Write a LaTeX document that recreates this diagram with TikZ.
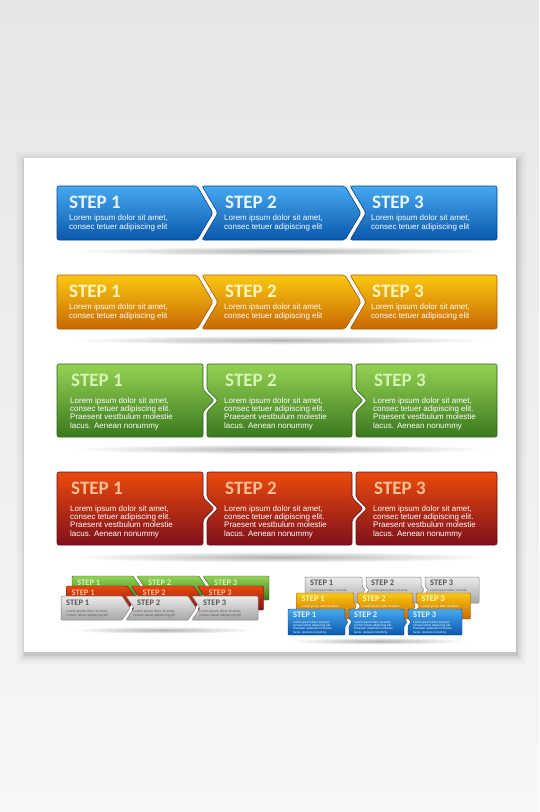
\documentclass[tikz,border=0pt]{standalone}
\usepackage{fontspec}
\setmainfont{Liberation Sans}
\newfontfamily\stepfont{Carlito}
\definecolor{bgtop}{RGB}{228,230,232}
\definecolor{bgbot}{RGB}{246,247,248}
\definecolor{bluetop}{RGB}{70,168,240}
\definecolor{bluebot}{RGB}{10,88,172}
\definecolor{blueedge}{RGB}{8,70,140}
\definecolor{bluestep}{RGB}{232,244,255}
\definecolor{orangetop}{RGB}{250,200,16}
\definecolor{orangebot}{RGB}{200,104,4}
\definecolor{orangeedge}{RGB}{170,88,0}
\definecolor{orangestep}{RGB}{255,246,190}
\definecolor{greentop}{RGB}{148,210,84}
\definecolor{greenbot}{RGB}{58,120,30}
\definecolor{greenedge}{RGB}{46,100,20}
\definecolor{greenstep}{RGB}{214,244,180}
\definecolor{redtop}{RGB}{234,74,12}
\definecolor{redbot}{RGB}{128,16,28}
\definecolor{rededge}{RGB}{104,14,16}
\definecolor{redstep}{RGB}{255,190,150}
\definecolor{graytop}{RGB}{236,236,236}
\definecolor{graybot}{RGB}{166,166,166}
\definecolor{grayedge}{RGB}{130,130,130}
\definecolor{graystep}{RGB}{88,88,88}
% chevron pieces: #1 left, #2 shoulder/right, #3 top, #4 bottom, #5 depth, #6 style
\newcommand{\cfirst}[6]{\path[#6] (#1,#3) -- (#2,#3) -- ({#2+#5},{(#3+#4)/2}) -- (#2,#4) -- (#1,#4) -- cycle;}
\newcommand{\cmid}[6]{\path[#6] (#1,#3) -- (#2,#3) -- ({#2+#5},{(#3+#4)/2}) -- (#2,#4) -- (#1,#4) -- ({#1+#5},{(#3+#4)/2}) -- cycle;}
\newcommand{\clast}[6]{\path[#6] (#1,#3) -- (#2,#3) -- (#2,#4) -- (#1,#4) -- ({#1+#5},{(#3+#4)/2}) -- cycle;}
% tab pieces: #1 left, #2 right, #3 top, #4 bottom, #5 tab depth, #6 tab half height, #7 style
\newcommand{\tfirst}[7]{\path[#7] (#1,#3) -- (#2,#3) -- (#2,{(#3+#4)/2-#6}) -- ({#2+#5},{(#3+#4)/2}) -- (#2,{(#3+#4)/2+#6}) -- (#2,#4) -- (#1,#4) -- cycle;}
\newcommand{\tmid}[7]{\path[#7] (#1,#3) -- (#2,#3) -- (#2,{(#3+#4)/2-#6}) -- ({#2+#5},{(#3+#4)/2}) -- (#2,{(#3+#4)/2+#6}) -- (#2,#4) -- (#1,#4) -- (#1,{(#3+#4)/2+#6}) -- ({#1+#5},{(#3+#4)/2}) -- (#1,{(#3+#4)/2-#6}) -- cycle;}
\newcommand{\tlast}[7]{\path[#7] (#1,#3) -- (#2,#3) -- (#2,#4) -- (#1,#4) -- (#1,{(#3+#4)/2+#6}) -- ({#1+#5},{(#3+#4)/2}) -- (#1,{(#3+#4)/2-#6}) -- cycle;}
\tikzset{
  bluebox/.style={top color=bluetop,bottom color=bluebot,draw=blueedge,line width=0.6,rounded corners=2},
  orangebox/.style={top color=orangetop,bottom color=orangebot,draw=orangeedge,line width=0.6,rounded corners=2},
  greenbox/.style={top color=greentop,bottom color=greenbot,draw=greenedge,line width=0.6,rounded corners=2},
  redbox/.style={top color=redtop,bottom color=redbot,draw=rededge,line width=0.6,rounded corners=2},
  graybox/.style={top color=graytop,bottom color=graybot,draw=grayedge,line width=0.5,rounded corners=1},
  steptxt/.style={anchor=base west,inner sep=0,font=\stepfont\bfseries\fontsize{19}{19}\selectfont},
  smallstep/.style={anchor=base west,inner sep=0,font=\stepfont\bfseries\fontsize{8.5}{8.5}\selectfont},
  bodytwo/.style={anchor=north west,inner sep=0,align=left,text=white,font=\fontsize{8}{9}\selectfont},
  bodyfour/.style={anchor=north west,inner sep=0,align=left,text=white,font=\fontsize{8}{8.3}\selectfont},
  tinytxt/.style={anchor=north west,inner sep=0,align=left,font=\fontsize{3}{3.3}\selectfont},
  rowshadow/.style={inner color=black!30,outer color=white}
}
\begin{document}
\begin{tikzpicture}[x=1pt,y=-1pt]
\useasboundingbox (0,0) rectangle (539,812);
\shade[top color=bgtop,bottom color=bgbot] (0,0) rectangle (539,812);
% card with soft shadow
\foreach \i/\o in {9/0.02,7/0.02,5/0.025,3.5/0.03,2.2/0.04,1.2/0.06}{
  \fill[black,opacity=\o] ({24-\i+1},{158-\i+3}) rectangle ({516+\i+1},{652+\i+3});
}
\fill[white] (24,158) rectangle (516,652);

% row shadows
\shade[rowshadow] (280,251) ellipse (210 and 4.5);
\shade[rowshadow] (280,340) ellipse (210 and 4.5);
\shade[rowshadow] (280,449) ellipse (210 and 5);
\shade[rowshadow] (280,557) ellipse (210 and 5.5);
\shade[rowshadow] (162,630) ellipse (92 and 3.5);
\shade[rowshadow] (378,641) ellipse (88 and 3.5);

% ---- row 1: blue arrows ----
\cfirst{57}{197}{186}{240}{16}{bluebox}
\cmid{202}{345}{186}{240}{16}{bluebox}
\clast{350}{497}{186}{240}{16}{bluebox}
\node[steptxt,text=bluestep] (b1) at (69,208) {STEP 1};
\node[steptxt,text=bluestep] (b2) at (225,208) {STEP 2};
\node[steptxt,text=bluestep] (b3) at (372,208) {STEP 3};
\node[bodytwo] (bt1) at (69,214.3) {Lorem ipsum dolor sit amet,\\consec tetuer adipiscing elit};
\node[bodytwo] (bt2) at (224,214.3) {Lorem ipsum dolor sit amet,\\consec tetuer adipiscing elit};
\node[bodytwo] (bt3) at (371,214.3) {Lorem ipsum dolor sit amet,\\consec tetuer adipiscing elit};

% ---- row 2: orange arrows ----
\cfirst{57}{197}{275}{329}{16}{orangebox}
\cmid{202}{345}{275}{329}{16}{orangebox}
\clast{350}{497}{275}{329}{16}{orangebox}
\node[steptxt,text=orangestep] (o1) at (69,297) {STEP 1};
\node[steptxt,text=orangestep] (o2) at (225,297) {STEP 2};
\node[steptxt,text=orangestep] (o3) at (372,297) {STEP 3};
\node[bodytwo] (ot1) at (69,303.3) {Lorem ipsum dolor sit amet,\\consec tetuer adipiscing elit};
\node[bodytwo] (ot2) at (224,303.3) {Lorem ipsum dolor sit amet,\\consec tetuer adipiscing elit};
\node[bodytwo] (ot3) at (371,303.3) {Lorem ipsum dolor sit amet,\\consec tetuer adipiscing elit};

% ---- row 3: green tabs ----
\tfirst{57}{203}{364}{437}{11}{11}{greenbox}
\tmid{207}{352}{364}{437}{11}{11}{greenbox}
\tlast{356}{497}{364}{437}{11}{11}{greenbox}
\node[steptxt,text=greenstep] (g1) at (71,386) {STEP 1};
\node[steptxt,text=greenstep] (g2) at (225,386) {STEP 2};
\node[steptxt,text=greenstep] (g3) at (374,386) {STEP 3};
\node[bodyfour] (gt1) at (70,397.1) {Lorem ipsum dolor sit amet,\\consec tetuer adipiscing elit.\\Praesent vestbulum molestie\\lacus. Aenean nonummy};
\node[bodyfour] (gt2) at (224,397.1) {Lorem ipsum dolor sit amet,\\consec tetuer adipiscing elit.\\Praesent vestbulum molestie\\lacus. Aenean nonummy};
\node[bodyfour] (gt3) at (373,397.1) {Lorem ipsum dolor sit amet,\\consec tetuer adipiscing elit.\\Praesent vestbulum molestie\\lacus. Aenean nonummy};

% ---- row 4: red tabs ----
\tfirst{57}{203}{472}{545}{11}{11}{redbox}
\tmid{207}{352}{472}{545}{11}{11}{redbox}
\tlast{356}{497}{472}{545}{11}{11}{redbox}
\node[steptxt,text=redstep] (r1) at (71,494) {STEP 1};
\node[steptxt,text=redstep] (r2) at (225,494) {STEP 2};
\node[steptxt,text=redstep] (r3) at (374,494) {STEP 3};
\node[bodyfour] (rt1) at (70,505.1) {Lorem ipsum dolor sit amet,\\consec tetuer adipiscing elit.\\Praesent vestbulum molestie\\lacus. Aenean nonummy};
\node[bodyfour] (rt2) at (224,505.1) {Lorem ipsum dolor sit amet,\\consec tetuer adipiscing elit.\\Praesent vestbulum molestie\\lacus. Aenean nonummy};
\node[bodyfour] (rt3) at (373,505.1) {Lorem ipsum dolor sit amet,\\consec tetuer adipiscing elit.\\Praesent vestbulum molestie\\lacus. Aenean nonummy};

% ---- small group left: stacked arrow rows ----
\begin{scope}[shift={(11,-20)}]
\cfirst{61}{122}{596}{620}{8}{greenbox,rounded corners=1,line width=0.4}
\cmid{126}{188}{596}{620}{8}{greenbox,rounded corners=1,line width=0.4}
\clast{192}{258}{596}{620}{8}{greenbox,rounded corners=1,line width=0.4}
\node[smallstep,text=greenstep] (lg1) at (66,605) {STEP 1};
\node[smallstep,text=greenstep] (lg2) at (137,605) {STEP 2};
\node[smallstep,text=greenstep] (lg3) at (203,605) {STEP 3};
\end{scope}
\begin{scope}[shift={(5.5,-10)}]
\cfirst{61}{122}{596}{620}{8}{redbox,rounded corners=1,line width=0.4}
\cmid{126}{188}{596}{620}{8}{redbox,rounded corners=1,line width=0.4}
\clast{192}{258}{596}{620}{8}{redbox,rounded corners=1,line width=0.4}
\node[smallstep,text=redstep] (lr1) at (66,605) {STEP 1};
\node[smallstep,text=redstep] (lr2) at (137,605) {STEP 2};
\node[smallstep,text=redstep] (lr3) at (203,605) {STEP 3};
\end{scope}
\cfirst{61}{122}{596}{620}{8}{graybox}
\cmid{126}{188}{596}{620}{8}{graybox}
\clast{192}{258}{596}{620}{8}{graybox}
\node[smallstep,text=graystep] (ly1) at (66,605) {STEP 1};
\node[smallstep,text=graystep] (ly2) at (137,605) {STEP 2};
\node[smallstep,text=graystep] (ly3) at (203,605) {STEP 3};
\node[tinytxt,text=graystep,font=\fontsize{3.4}{4}\selectfont] (lyt1) at (66,609.6) {Lorem ipsum dolor sit amet,\\consec tetuer adipiscing elit};
\node[tinytxt,text=graystep,font=\fontsize{3.4}{4}\selectfont] (lyt2) at (133,609.6) {Lorem ipsum dolor sit amet,\\consec tetuer adipiscing elit};
\node[tinytxt,text=graystep,font=\fontsize{3.4}{4}\selectfont] (lyt3) at (199,609.6) {Lorem ipsum dolor sit amet,\\consec tetuer adipiscing elit};

% ---- small group right: stacked tab rows ----
\begin{scope}[shift={(17,-32)}]
\tfirst{288}{345}{609}{635}{3}{4}{graybox}
\tmid{349}{404}{609}{635}{3}{4}{graybox}
\tlast{408}{462}{609}{635}{3}{4}{graybox}
\node[smallstep,text=graystep] (rg1) at (293,617) {STEP 1};
\node[smallstep,text=graystep] (rg2) at (354,617) {STEP 2};
\node[smallstep,text=graystep] (rg3) at (413,617) {STEP 3};
\node[tinytxt,text=graystep] (rgt1) at (293,620.8) {Lorem ipsum dolor sit amet,};
\node[tinytxt,text=graystep] (rgt2) at (354,620.8) {Lorem ipsum dolor sit amet,};
\node[tinytxt,text=graystep] (rgt3) at (413,620.8) {Lorem ipsum dolor sit amet,};
\end{scope}
\begin{scope}[shift={(8.5,-16)}]
\tfirst{288}{345}{609}{635}{3}{4}{orangebox,rounded corners=1,line width=0.4}
\tmid{349}{404}{609}{635}{3}{4}{orangebox,rounded corners=1,line width=0.4}
\tlast{408}{462}{609}{635}{3}{4}{orangebox,rounded corners=1,line width=0.4}
\node[smallstep,text=orangestep] (ro1) at (293,617) {STEP 1};
\node[smallstep,text=orangestep] (ro2) at (354,617) {STEP 2};
\node[smallstep,text=orangestep] (ro3) at (413,617) {STEP 3};
\node[tinytxt,text=white] (rot1) at (293,620.8) {Lorem ipsum dolor sit amet,};
\node[tinytxt,text=white] (rot2) at (354,620.8) {Lorem ipsum dolor sit amet,};
\node[tinytxt,text=white] (rot3) at (413,620.8) {Lorem ipsum dolor sit amet,};
\end{scope}
\tfirst{288}{345}{609}{635}{3}{4}{bluebox,rounded corners=1,line width=0.4}
\tmid{349}{404}{609}{635}{3}{4}{bluebox,rounded corners=1,line width=0.4}
\tlast{408}{462}{609}{635}{3}{4}{bluebox,rounded corners=1,line width=0.4}
\node[smallstep,text=bluestep] (rb1) at (293,617) {STEP 1};
\node[smallstep,text=bluestep] (rb2) at (354,617) {STEP 2};
\node[smallstep,text=bluestep] (rb3) at (413,617) {STEP 3};
\node[tinytxt,text=white] (rbt1) at (293,620.8) {Lorem ipsum dolor sit amet,\\consec tetuer adipiscing elit.\\Praesent vestbulum molestie\\lacus. Aenean nonummy};
\node[tinytxt,text=white] (rbt2) at (354,620.8) {Lorem ipsum dolor sit amet,\\consec tetuer adipiscing elit.\\Praesent vestbulum molestie\\lacus. Aenean nonummy};
\node[tinytxt,text=white] (rbt3) at (413,620.8) {Lorem ipsum dolor sit amet,\\consec tetuer adipiscing elit.\\Praesent vestbulum molestie\\lacus. Aenean nonummy};
\end{tikzpicture}
\end{document}
